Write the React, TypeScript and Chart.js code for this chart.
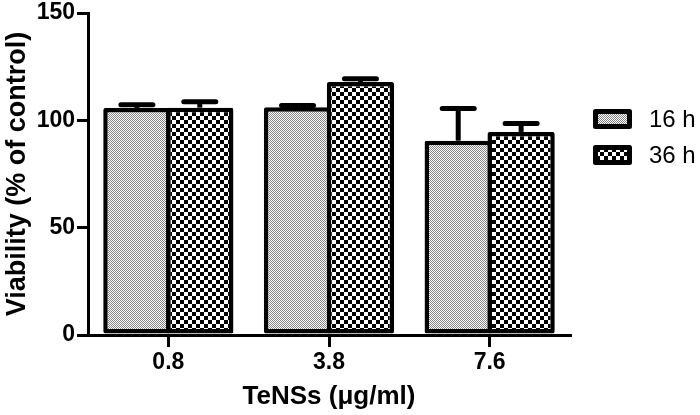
import React, { useEffect, useRef } from "react";
import { Chart, registerables } from "chart.js";

Chart.register(...registerables);

const categories = ["0.8", "3.8", "7.6"];
const seriesLabels = ["16 h", "36 h"];
const values16h = [105.8, 106.1, 90.5];
const values36h = [105.9, 117.8, 94.6];
const errors16h = [1.5, 0.8, 15];
const errors36h = [2.8, 1.6, 3.9];
const yTicks = [0, 50, 100, 150];

const FONT = "'Liberation Sans', Arial, Helvetica, sans-serif";

function makeDotPattern(ctx: CanvasRenderingContext2D) {
  const c = document.createElement("canvas");
  c.width = 2;
  c.height = 2;
  const g = c.getContext("2d")!;
  g.fillStyle = "#ffffff";
  g.fillRect(0, 0, 2, 2);
  g.fillStyle = "#858585";
  g.fillRect(0, 0, 1, 1);
  g.fillRect(1, 1, 1, 1);
  return ctx.createPattern(c, "repeat")!;
}

function makeCheckPattern(ctx: CanvasRenderingContext2D) {
  const c = document.createElement("canvas");
  c.width = 8;
  c.height = 8;
  const g = c.getContext("2d")!;
  g.fillStyle = "#ffffff";
  g.fillRect(0, 0, 8, 8);
  g.fillStyle = "#000000";
  g.fillRect(0, 0, 4, 4);
  g.fillRect(4, 4, 4, 4);
  return ctx.createPattern(c, "repeat")!;
}

const errorBarPlugin = {
  id: "errorBars",
  afterDatasetsDraw(chart: any) {
    const ctx = chart.ctx;
    const yScale = chart.scales.y;
    chart.data.datasets.forEach((ds: any, i: number) => {
      const meta = chart.getDatasetMeta(i);
      const errs: number[] = ds.errors || [];
      meta.data.forEach((el: any, j: number) => {
        const v = ds.data[j];
        const top = yScale.getPixelForValue(v + errs[j]);
        const barTop = el.y;
        ctx.save();
        ctx.strokeStyle = "#000";
        ctx.lineWidth = 5;
        ctx.lineCap = "butt";
        ctx.beginPath();
        ctx.moveTo(el.x, barTop);
        ctx.lineTo(el.x, top);
        ctx.stroke();
        ctx.lineCap = "round";
        ctx.beginPath();
        ctx.moveTo(el.x - 16, top);
        ctx.lineTo(el.x + 16, top);
        ctx.stroke();
        ctx.restore();
      });
    });
  },
};

const legendPlugin = {
  id: "customLegend",
  afterDraw(chart: any) {
    const ctx = chart.ctx;
    const boxX = 593;
    const boxW = 39;
    const boxH = 20;
    const tops = [109, 145];
    chart.data.datasets.forEach((ds: any, i: number) => {
      const y = tops[i];
      ctx.save();
      ctx.fillStyle = ds.backgroundColor;
      ctx.strokeStyle = "#000";
      ctx.lineWidth = 5;
      ctx.lineJoin = "round";
      ctx.beginPath();
      ctx.rect(boxX + 2.5, y + 2.5, boxW - 5, boxH - 5);
      ctx.fill();
      ctx.stroke();
      ctx.fillStyle = "#000";
      ctx.font = `24px ${FONT}`;
      ctx.textBaseline = "middle";
      ctx.textAlign = "left";
      ctx.fillText(ds.label, 649, y + boxH / 2 + 1);
      ctx.restore();
    });
  },
};

export default function App() {
  const canvasRef = useRef<HTMLCanvasElement | null>(null);

  useEffect(() => {
    const canvas = canvasRef.current!;
    const ctx = canvas.getContext("2d")!;
    const dots = makeDotPattern(ctx);
    const checks = makeCheckPattern(ctx);

    const chart = new Chart(ctx, {
      type: "bar",
      data: {
        labels: categories,
        datasets: [
          {
            label: seriesLabels[0],
            data: values16h,
            errors: errors16h,
            backgroundColor: dots,
            borderColor: "#000",
            borderWidth: 4.5,
            borderSkipped: false,
            borderRadius: 2,
            categoryPercentage: 0.783,
            barPercentage: 1.07,
          } as any,
          {
            label: seriesLabels[1],
            data: values36h,
            errors: errors36h,
            backgroundColor: checks,
            borderColor: "#000",
            borderWidth: 4.5,
            borderSkipped: false,
            borderRadius: 2,
            categoryPercentage: 0.783,
            barPercentage: 1.07,
          } as any,
        ],
      },
      options: {
        responsive: false,
        animation: false,
        devicePixelRatio: 1,
        layout: { padding: { top: 13, right: 130, left: 0, bottom: 0 } },
        plugins: {
          legend: { display: false },
          tooltip: { enabled: false },
        },
        scales: {
          x: {
            afterFit(scale: any) {
              scale.height = 80;
            },
            grid: {
              display: true,
              drawOnChartArea: false,
              drawTicks: true,
              tickLength: 12,
              lineWidth: 3,
              color: "#000",
              offset: false,
            },
            border: { display: true, color: "#000", width: 3 },
            ticks: {
              color: "#000",
              padding: 2,
              font: { family: FONT, size: 23, weight: "bold" },
            },
            title: {
              display: true,
              text: "TeNSs (\u03bcg/ml)",
              color: "#000",
              font: { family: FONT, size: 26, weight: "bold" },
              padding: { top: 0, bottom: 3 },
            },
          },
          y: {
            min: 0,
            max: 150,
            afterFit(scale: any) {
              scale.width = 88;
              scale.paddingTop = 0;
              scale.paddingBottom = 0;
            },
            afterBuildTicks(scale: any) {
              scale.ticks = yTicks.map((v) => ({ value: v }));
            },
            grid: {
              display: true,
              drawOnChartArea: false,
              drawTicks: true,
              tickLength: 11,
              lineWidth: 3,
              color: "#000",
            },
            border: { display: true, color: "#000", width: 3 },
            ticks: {
              color: "#000",
              padding: 2,
              font: { family: FONT, size: 23, weight: "bold", lineHeight: 1 },
            },
            title: {
              display: true,
              text: "Viability (% of control)",
              color: "#000",
              font: { family: FONT, size: 27, weight: "bold" },
              padding: { top: 1, bottom: 0 },
            },
          },
        },
      },
      plugins: [errorBarPlugin, legendPlugin],
    });

    return () => chart.destroy();
  }, []);

  return (
    <div style={{ position: "absolute", left: 0, top: 0, width: 700, height: 415, background: "#fff" }}>
      <canvas ref={canvasRef} width={700} height={415} style={{ display: "block" }} />
    </div>
  );
}
